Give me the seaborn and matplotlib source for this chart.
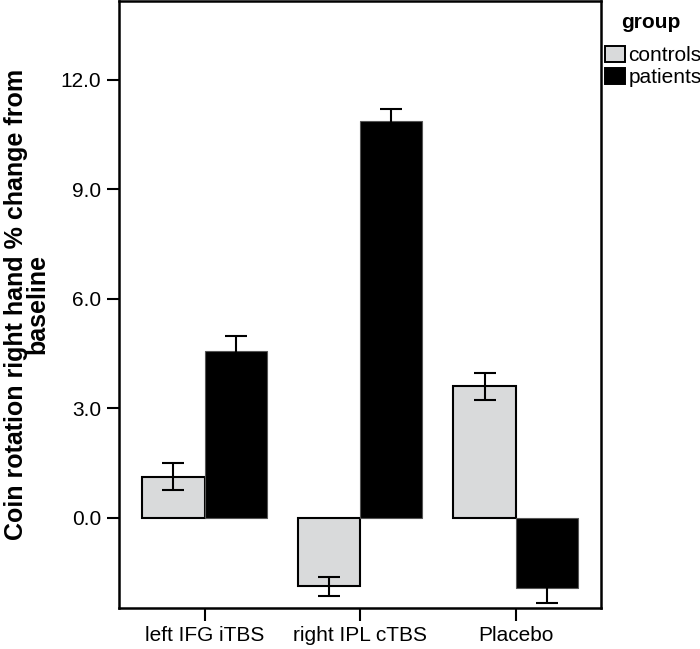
import matplotlib
matplotlib.use('Agg')
import matplotlib.pyplot as plt
import seaborn as sns
import pandas as pd
import numpy as np

# values
conditions = ['left IFG iTBS', 'right IPL cTBS', 'Placebo']
groups = ['controls', 'patients']
controls_mean = [1.13, -1.88, 3.60]
patients_mean = [4.58, 10.86, -1.93]
controls_se = [0.37, 0.26, 0.36]
patients_se = [0.41, 0.34, 0.39]

df = pd.DataFrame({
    'condition': conditions * 2,
    'group': ['controls'] * 3 + ['patients'] * 3,
    'value': controls_mean + patients_mean,
    'se': controls_se + patients_se,
})

sns.set_theme(style="white")
plt.rcParams['font.family'] = ['Liberation Sans', 'DejaVu Sans']
plt.rcParams['text.color'] = 'black'
plt.rcParams['axes.labelcolor'] = 'black'

fig = plt.figure(figsize=(7, 6.49), dpi=100)
ax = fig.add_axes([0.170, 0.0632, 0.689, 0.9353])

palette = {'controls': '#d9dadb', 'patients': '#000000'}
sns.barplot(data=df, x='condition', y='value', hue='group', order=conditions,
            hue_order=groups, palette=palette, errorbar=None, width=0.8,
            saturation=1, ax=ax)

# edges + error bars, bars are ordered by hue then by condition
for i, patch in enumerate(ax.patches[:6]):
    g = i // 3
    c = i % 3
    patch.set_edgecolor('black' if g == 0 else '#555555')
    patch.set_linewidth(1.5 if g == 0 else 0.8)
    mean = controls_mean[c] if g == 0 else patients_mean[c]
    se = controls_se[c] if g == 0 else patients_se[c]
    xc = patch.get_x() + patch.get_width() / 2
    ax.errorbar(xc, mean, yerr=se, fmt='none', ecolor='black',
                elinewidth=1.5, capsize=8, capthick=1.5, zorder=3)

ax.set_xlim(-0.55, 2.55)
ax.set_ylim(-2.47, 14.16)
ax.set_yticks([0, 3, 6, 9, 12])
ax.set_yticklabels(['0.0', '3.0', '6.0', '9.0', '12.0'])
ax.tick_params(axis='both', labelsize=15, length=9, width=1.5, color='black',
               direction='out', left=True, bottom=True, labelcolor='black', pad=4)
for s in ax.spines.values():
    s.set_color('black')
    s.set_linewidth(1.8)

ax.set_xlabel('')
ax.set_ylabel('Coin rotation right hand % change from\nbaseline',
              fontsize=18, fontweight='bold', labelpad=8, linespacing=0.85,
              color='black')

handles, labels = ax.get_legend_handles_labels()
for h in handles:
    h.set_edgecolor('black')
    h.set_linewidth(1.4)
ax.legend(handles, labels, loc='upper left',
          bbox_to_anchor=(603 / 700, 1 - 44 / 649), bbox_transform=fig.transFigure,
          frameon=False, fontsize=15, labelcolor='black',
          handlelength=0.96, handleheight=0.82, handletextpad=0.15,
          labelspacing=0.12, borderaxespad=0, borderpad=0.1)
# legend title placed by hand, SPSS leaves a larger gap under it
fig.text(651 / 700, 1 - 22 / 649, 'group', ha='center', va='center',
         fontsize=15, fontweight='bold', color='black')

plt.savefig('out.png', dpi=100)
plt.close()
